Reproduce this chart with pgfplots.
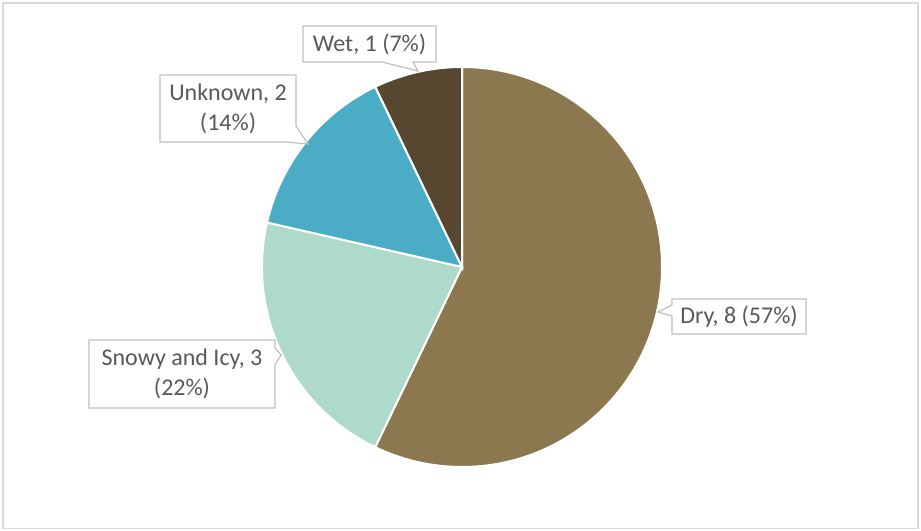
\documentclass[border=0pt]{standalone}
\usepackage{pgfplots}
\usepackage{pgfplotstable}
\pgfplotsset{compat=1.18}
\usepackage{fontspec}
\setmainfont{Carlito}
\definecolor{dryc}{HTML}{8B784F}
\definecolor{snowc}{HTML}{ADDACB}
\definecolor{unkc}{HTML}{4BACC6}
\definecolor{wetc}{HTML}{574630}
\definecolor{txtc}{HTML}{595959}
\definecolor{boxc}{HTML}{BFBFBF}
\definecolor{framec}{HTML}{D9D9D9}
\pgfplotstableread[col sep=comma]{
label,value
Dry,8
Snowy and Icy,3
Unknown,2
Wet,1
}\piedata
\begin{document}%
\begin{tikzpicture}
\pgfplotstablegetelem{0}{value}\of\piedata \let\vA\pgfplotsretval
\pgfplotstablegetelem{1}{value}\of\piedata \let\vB\pgfplotsretval
\pgfplotstablegetelem{2}{value}\of\piedata \let\vC\pgfplotsretval
\pgfplotstablegetelem{3}{value}\of\piedata \let\vD\pgfplotsretval
\pgfmathsetmacro\tot{\vA+\vB+\vC+\vD}
\pgfmathsetmacro\aA{90}
\pgfmathsetmacro\aB{\aA-360*\vA/\tot}
\pgfmathsetmacro\aC{\aB-360*\vB/\tot}
\pgfmathsetmacro\aD{\aC-360*\vC/\tot}
\pgfmathsetmacro\aE{\aD-360*\vD/\tot}
\begin{axis}[
  hide axis, x=1bp, y=1bp,
  xmin=0, xmax=921, ymin=0, ymax=531,
  enlargelimits=false, clip=false,
]
\path (axis cs:0,0) rectangle (axis cs:921,531);
\draw[framec, line width=1.5bp] (axis cs:3,2.5) rectangle (axis cs:918,528);
% slices
\fill[dryc, draw=white, line width=2bp] (axis cs:462,264) -- ++(\aA:200bp) arc[start angle=\aA, end angle=\aB, radius=200bp] -- cycle;
\fill[snowc, draw=white, line width=2bp] (axis cs:462,264) -- ++(\aB:200bp) arc[start angle=\aB, end angle=\aC, radius=200bp] -- cycle;
\fill[unkc, draw=white, line width=2bp] (axis cs:462,264) -- ++(\aC:200bp) arc[start angle=\aC, end angle=\aD, radius=200bp] -- cycle;
\fill[wetc, draw=white, line width=2bp] (axis cs:462,264) -- ++(\aD:200bp) arc[start angle=\aD, end angle=\aE, radius=200bp] -- cycle;
% callouts
\begin{scope}[every node/.style={text=txtc, font=\fontsize{24bp}{30bp}\selectfont, align=center, inner sep=0pt}]
\draw[boxc, fill=white, line width=1.2bp] (axis cs:672,232) -- (axis cs:806,232) -- (axis cs:806,197) -- (axis cs:672,197) -- (axis cs:672,215) -- (axis cs:658,219) -- (axis cs:672,226) -- cycle;
\node at (axis cs:739,214) {Dry, 8 (57\%)};
\draw[boxc, fill=white, line width=1.2bp] (axis cs:89,191) -- (axis cs:275,191) -- (axis cs:275,183) -- (axis cs:281,176) -- (axis cs:275,166) -- (axis cs:275,123) -- (axis cs:89,123) -- cycle;
\node at (axis cs:182,157) {Snowy and Icy, 3\\(22\%)};
\draw[boxc, fill=white, line width=1.2bp] (axis cs:160,456) -- (axis cs:296,456) -- (axis cs:296,405) -- (axis cs:308,387) -- (axis cs:285,389) -- (axis cs:160,389) -- cycle;
\node at (axis cs:228,422.5) {Unknown, 2\\(14\%)};
\draw[boxc, fill=white, line width=1.2bp] (axis cs:303,505) -- (axis cs:436,505) -- (axis cs:436,469) -- (axis cs:413,469) -- (axis cs:418,460) -- (axis cs:382,469) -- (axis cs:303,469) -- cycle;
\node at (axis cs:369.5,487) {Wet, 1 (7\%)};
\end{scope}
\end{axis}
\end{tikzpicture}%
\end{document}
